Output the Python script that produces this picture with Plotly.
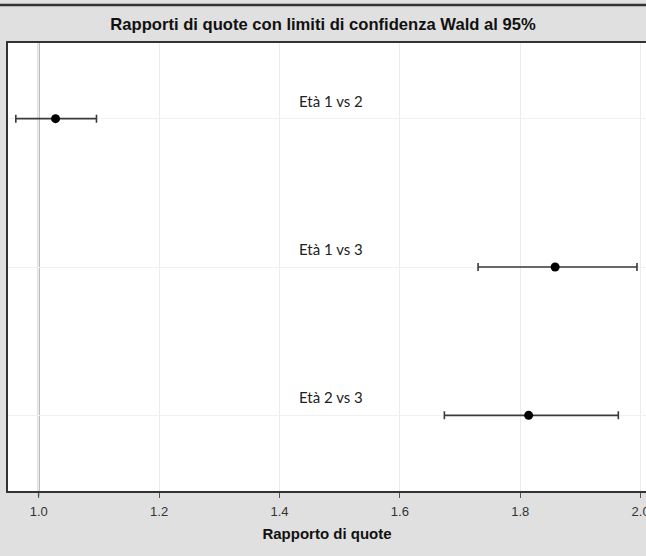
import plotly.graph_objects as go

labels = ["Età 1 vs 2", "Età 1 vs 3", "Età 2 vs 3"]
odds_ratio = [1.028, 1.858, 1.814]
lower = [0.962, 1.730, 1.674]
upper = [1.096, 1.994, 1.963]
tick_vals = [1.0, 1.2, 1.4, 1.6, 1.8, 2.0]
tick_text = ["1.0", "1.2", "1.4", "1.6", "1.8", "2.0"]

err_plus = [u - o for u, o in zip(upper, odds_ratio)]
err_minus = [o - l for o, l in zip(odds_ratio, lower)]

fig = go.Figure()
fig.add_trace(go.Scatter(
    x=odds_ratio, y=labels, mode="markers",
    marker=dict(color="black", size=9),
    error_x=dict(type="data", symmetric=False, array=err_plus, arrayminus=err_minus,
                 color="#3a3a3a", thickness=1.6, width=4),
    showlegend=False, hoverinfo="x+y",
))

for lab in labels:
    fig.add_annotation(x=1.486, y=lab, text=lab, showarrow=False,
                       yanchor="bottom", yshift=7,
                       font=dict(family="Lato, Open Sans, sans-serif", size=15, color="#222"))

# reference line at 1
fig.add_shape(type="line", xref="x", yref="paper", x0=1.0, x1=1.0, y0=-0.012, y1=1,
              line=dict(color="#a0a0a0", width=2), layer="below")
# top dark line of the outer frame
fig.add_shape(type="line", xref="paper", yref="paper", x0=-0.02, x1=1.02,
              y0=1 + 38 / 448, y1=1 + 38 / 448, line=dict(color="#333", width=2.5),
              layer="above")

fig.update_layout(
    width=646, height=556,
    margin=dict(l=8, r=0, t=43, b=65),
    paper_bgcolor="#e0e0e0", plot_bgcolor="white",
    title=dict(text="<b>Rapporti di quote con limiti di confidenza Wald al 95%</b>",
               x=0.5, xanchor="center", y=1 - 24 / 556, yanchor="middle",
               font=dict(family="Liberation Sans, Arial, sans-serif", size=16.6, color="#111")),
    xaxis=dict(range=[0.949, 2.009], tickvals=tick_vals, ticktext=tick_text,
               automargin=False,
               showgrid=True, gridcolor="#ececec", gridwidth=1,
               zeroline=False, showline=True, linecolor="#333", linewidth=1.5, mirror=True,
               ticks="outside", ticklen=5, tickcolor="#555", ticklabeloverflow="allow",
               ticklabelstandoff=3,
               tickfont=dict(family="Liberation Sans Narrow, Arial Narrow, sans-serif", size=13, color="#333"),
               title=dict(text="<b>Rapporto di quote</b>", standoff=10,
                          font=dict(family="Liberation Sans Narrow, Liberation Sans, sans-serif", size=15, color="#111"))),
    yaxis=dict(type="category", categoryarray=labels, range=[2.51, -0.51],
               automargin=False,
               showticklabels=False, showgrid=True, gridcolor="#f2f2f2",
               zeroline=False, showline=True, linecolor="#333", linewidth=1.5, ticks=""),
)

fig.write_html("out.html", config={"displayModeBar": False},
               post_script="document.body.style.margin='0';document.body.style.overflow='hidden';")
